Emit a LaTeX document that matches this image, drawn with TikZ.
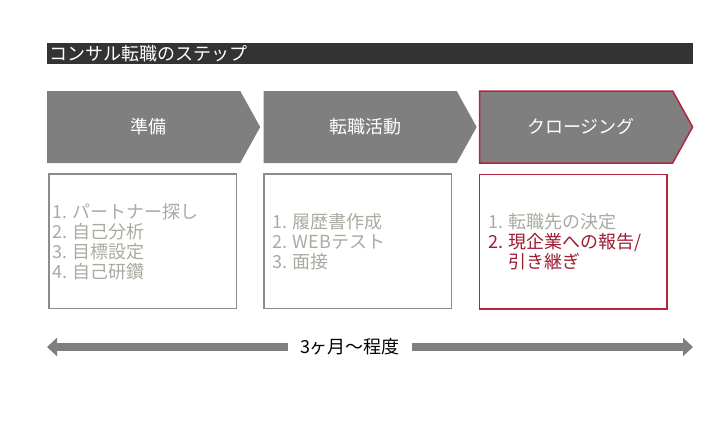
\documentclass[tikz,border=0pt]{standalone}
\usepackage{fontspec}
\setmainfont{Noto Sans CJK JP}
\usepackage{tikz}
\usetikzlibrary{positioning,shapes.symbols,arrows.meta}
\definecolor{titlegray}{HTML}{333333}
\definecolor{phasegray}{HTML}{7F7F7F}
\definecolor{boxgray}{HTML}{8C8C8C}
\definecolor{itemgray}{HTML}{ABAAA2}
\definecolor{closered}{HTML}{B3263C}
\definecolor{darkred}{HTML}{9E1B32}

\begin{document}
\begin{tikzpicture}[x=1pt, y=-1pt, node distance=3pt, font=\fontsize{18}{20}\selectfont,
  phase/.style={signal, signal to=east, signal pointer angle=122, fill=phasegray, text=white, minimum width=213pt, minimum height=72pt, inner sep=0pt, execute at begin node={\hspace*{10pt}}},
  tasks/.style={draw=boxgray, line width=1.5pt, minimum width=187.5pt, minimum height=134.5pt, inner sep=0pt},
  item/.style={anchor=west, align=left, text=itemgray, inner sep=0pt},
  span bar/.style={draw=phasegray, line width=8pt, -{Triangle[length=10pt, width=18pt]}}]
\useasboundingbox[fill=white] (0,0) rectangle (720,426);
\node[fill=titlegray, minimum width=646pt, minimum height=21pt, inner sep=0pt, anchor=north west] (titlebar) at (47,43) {};
\node[anchor=west, text=white, inner sep=0pt] (title) at ([xshift=2pt]titlebar.west) {コンサル転職のステップ};
\node[phase, anchor=west] (prep) at (47,127) {準備};
\node[phase, right=of prep] (search) {転職活動};
\node[phase, draw=closered, line width=1.5pt, right=2pt of search] (closing) {クロージング};
\node[tasks, below=10pt of prep.south west, anchor=north west, xshift=1pt] (prepbox) {};
\node[tasks, below=10pt of search.south west, anchor=north west] (searchbox) {};
\node[tasks, draw=closered, below=10pt of closing.south west, anchor=north west] (closebox) {};
\node[item] (prepitems) at ([xshift=4pt]prepbox.west) {1. パートナー探し\\2. 自己分析\\3. 目標設定\\4. 自己研鑽};
\node[item] (searchitems) at ([xshift=9pt]searchbox.west) {1. 履歴書作成\\2. WEBテスト\\3. 面接};
\node[item] (closeitems) at ([xshift=9pt]closebox.west) {1. 転職先の決定\\\textcolor{darkred}{2. 現企業への報告/}\\\textcolor{darkred}{\phantom{2. }引き継ぎ}};
\coordinate (spanstart) at (47,347);
\coordinate (spanend) at (693,347);
\node[inner sep=0pt, minimum width=124pt] (span) at (350,347) {3ヶ月～程度};
\draw[span bar] (span.west) -- (spanstart);
\draw[span bar] (span.east) -- (spanend);
\end{tikzpicture}
\end{document}
